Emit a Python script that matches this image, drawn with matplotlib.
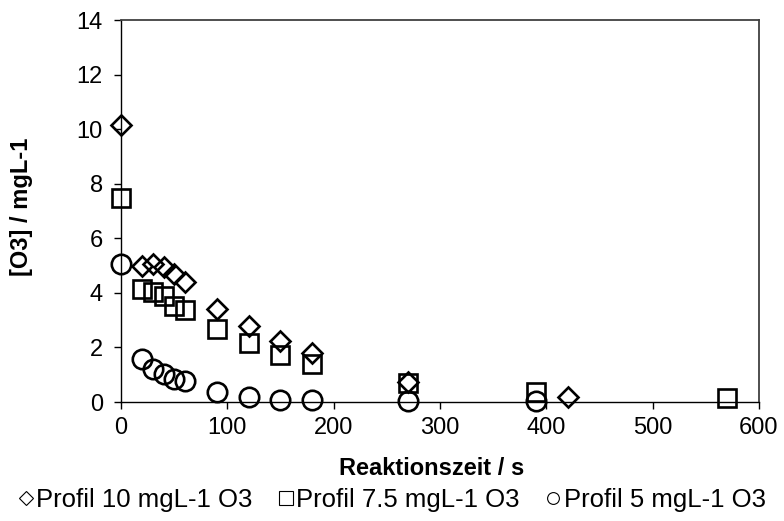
import matplotlib
matplotlib.use("Agg")
import matplotlib.pyplot as plt
from matplotlib.lines import Line2D

plt.rcParams['font.family'] = ['Liberation Sans', 'DejaVu Sans']

t10 = [0, 20, 30, 40, 50, 60, 90, 120, 150, 180, 270, 420]
c10 = [10.15, 5.0, 5.05, 4.95, 4.7, 4.4, 3.42, 2.78, 2.22, 1.8, 0.75, 0.17]
t75 = [0, 20, 30, 40, 50, 60, 90, 120, 150, 180, 270, 390, 570]
c75 = [7.48, 4.14, 4.04, 3.9, 3.52, 3.36, 2.68, 2.17, 1.72, 1.4, 0.68, 0.36, 0.13]
t5 = [0, 20, 30, 40, 50, 60, 90, 120, 150, 180, 270, 390]
c5 = [5.04, 1.56, 1.2, 1.03, 0.84, 0.76, 0.38, 0.17, 0.06, 0.06, 0.05, 0.02]
labels = ['Profil 10 mgL-1 O3', 'Profil 7.5 mgL-1 O3', 'Profil 5 mgL-1 O3']

FS = 17

fig = plt.figure(figsize=(7.84, 5.21), dpi=100)
ax = fig.add_axes([0.1543, 0.2284, 0.8137, 0.7332])

mk = dict(linestyle='none', markerfacecolor='none', markeredgecolor='black', markeredgewidth=1.9, clip_on=False)
ax.plot(t10, c10, marker='D', markersize=10, **mk)
ax.plot(t75, c75, marker='s', markersize=13, **mk)
ax.plot(t5, c5, marker='o', markersize=14, **mk)

ax.set_xlim(0, 600)
ax.set_ylim(0, 14)
ax.set_xticks(range(0, 601, 100))
ax.set_yticks(range(0, 15, 2))
ax.tick_params(direction='out', length=5, width=1, labelsize=FS, colors='black')
ax.tick_params(axis='x', pad=6)
ax.tick_params(axis='y', pad=8)
for s in ['left', 'bottom']:
    ax.spines[s].set_color('black')
    ax.spines[s].set_linewidth(1)
for s in ['top', 'right']:
    ax.spines[s].set_color('#404040')
    ax.spines[s].set_linewidth(1.3)

ax.set_xlabel('Reaktionszeit / s', fontsize=FS, fontweight='bold')
ax.xaxis.set_label_coords(0.487, -0.145)
ax.set_ylabel('[O3] / mgL-1', fontsize=FS, fontweight='bold')
ax.yaxis.set_label_coords(-0.138, 0.512)

handles = [
    Line2D([], [], marker='D', markersize=7.5, markerfacecolor='none', markeredgecolor='black', markeredgewidth=0.8, linestyle='none'),
    Line2D([], [], marker='s', markersize=10.5, markerfacecolor='none', markeredgecolor='black', markeredgewidth=0.8, linestyle='none'),
    Line2D([], [], marker='o', markersize=8.5, markerfacecolor='none', markeredgecolor='black', markeredgewidth=0.8, linestyle='none'),
]
fig.legend(handles, labels, loc='center', bbox_to_anchor=(0.5, 0.04), ncol=3, frameon=False,
           fontsize=18.5, handlelength=0.6, handletextpad=0.1, columnspacing=1.0, borderaxespad=0)

fig.savefig('out.png', dpi=100)
